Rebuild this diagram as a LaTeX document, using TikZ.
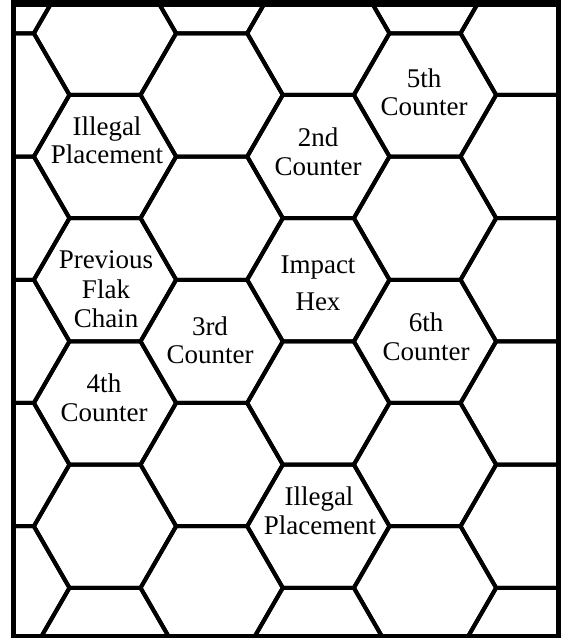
\documentclass[tikz,border=0pt]{standalone}
\usepackage{fontspec}
\setmainfont{Liberation Serif}
\begin{document}
\begin{tikzpicture}[x=1pt,y=-1pt,
  hexline/.style={line width=4pt, line join=round, black},
  frameline/.style={line width=5pt, black},
  lbl/.style={anchor=base, inner sep=0pt, font=\fontsize{27}{30}\selectfont}]
\useasboundingbox (0,0) rectangle (564,638);
\fill[white] (0,0) rectangle (564,638);
% hex grid
\begin{scope}
\clip (13.5,4.5) rectangle (558,636.5);
\foreach \i in {-1,...,5}{
  \foreach \k in {-1,...,5}{
    \pgfmathsetmacro\cx{105+(\i)*106.67}
    \pgfmathsetmacro\cy{33.3+(\k)*123.23+mod(abs(\i),2)*61.615}
    \draw[hexline] (\cx-71.15,\cy) -- ++(35.575,-61.615) -- ++(71.15,0)
      -- ++(35.575,61.615) -- ++(-35.575,61.615) -- ++(-71.15,0) -- cycle;
  }
}
\end{scope}
% frame
\draw[frameline] (13.5,4.5) rectangle (558,636.5);
\fill[black] (11,0) rectangle (560.5,7);
% labels
\node[lbl] (a1) at (107,135) {Illegal};
\node[lbl] (a2) at (107,163.3) {Placement};
\node[lbl] (b1) at (424,87.3) {5th};
\node[lbl] (b2) at (424,115) {Counter};
\node[lbl] (c1) at (318,146.7) {2nd};
\node[lbl] (c2) at (318,175) {Counter};
\node[lbl] (d1) at (106,268.3) {Previous};
\node[lbl] (d2) at (106,298.5) {Flak};
\node[lbl] (d3) at (106,327.3) {Chain};
\node[lbl] (e1) at (318,273.3) {Impact};
\node[lbl] (e2) at (318,310) {Hex};
\node[lbl] (f1) at (210,335) {3rd};
\node[lbl] (f2) at (210,363.3) {Counter};
\node[lbl] (g1) at (426,331.7) {6th};
\node[lbl] (g2) at (426,360) {Counter};
\node[lbl] (h1) at (104,392.3) {4th};
\node[lbl] (h2) at (104,421.7) {Counter};
\node[lbl] (k1) at (319,505) {Illegal};
\node[lbl] (k2) at (320,534) {Placement};
\end{tikzpicture}
\end{document}
